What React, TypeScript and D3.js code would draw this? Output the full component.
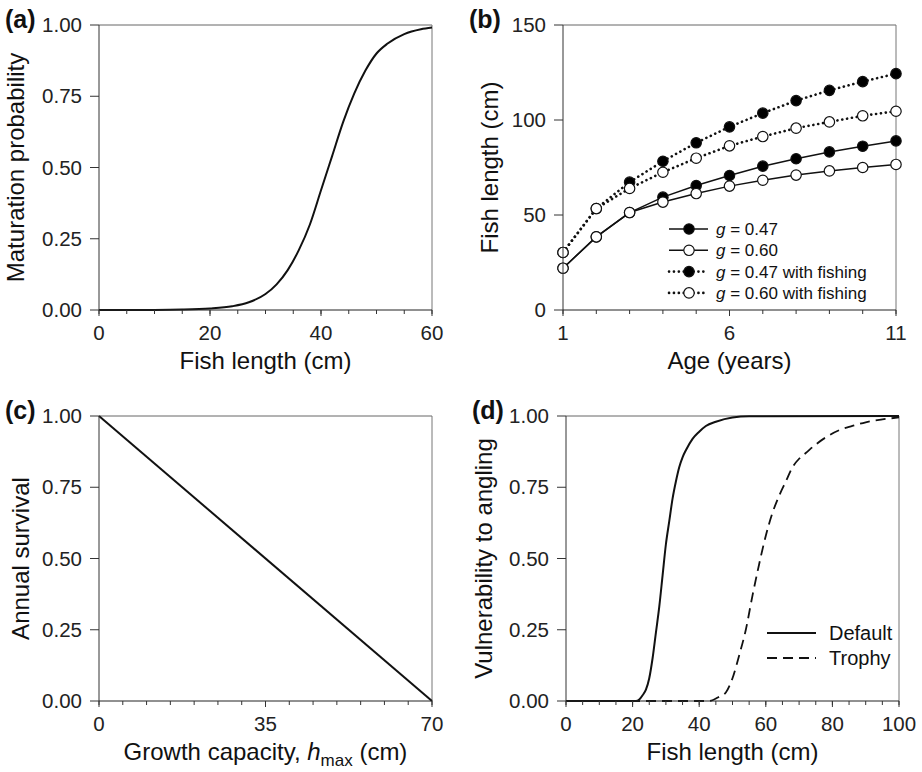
import React from "react";
import * as d3 from "d3";

const FONT = '"Liberation Sans", Arial, Helvetica, sans-serif';

// (a) maturation ogive
const matLength = [0, 10, 15, 20, 24, 27, 30, 32, 34, 36, 38, 40, 42, 44, 46, 48, 50, 52, 55, 58, 60];
const matProb = [0, 0.0004, 0.0014, 0.005, 0.013, 0.027, 0.056, 0.09, 0.14, 0.21, 0.3, 0.42, 0.54, 0.66, 0.76, 0.84, 0.9, 0.935, 0.968, 0.985, 0.991];

// (b) growth curves
const ages = [1, 2, 3, 4, 5, 6, 7, 8, 9, 10, 11];
const g047 = [22, 38.5, 51.3, 59.4, 65.5, 70.8, 75.7, 79.6, 83.2, 86.2, 89.0];
const g060 = [22, 38.5, 51.3, 56.8, 61.3, 65.2, 68.3, 71.0, 73.2, 75.0, 76.6];
const g047Fishing = [30.3, 53.4, 67.3, 78.3, 88.0, 96.4, 103.6, 110.2, 115.6, 120.2, 124.4];
const g060Fishing = [30.3, 53.4, 64.0, 72.5, 79.9, 86.4, 91.3, 95.7, 99.0, 102.2, 104.6];

// (c) survival vs growth capacity
const hmax = [0, 70];
const survival = [1, 0];

// (d) vulnerability to angling
const defLength = [0, 21, 22, 23, 24, 25, 26, 27, 28, 29, 30, 31, 32, 33, 34, 35, 36, 38, 40, 42, 45, 50, 55, 100];
const defVuln = [0, 0, 0.005, 0.02, 0.04, 0.08, 0.15, 0.24, 0.33, 0.44, 0.55, 0.63, 0.71, 0.77, 0.82, 0.855, 0.88, 0.92, 0.945, 0.965, 0.98, 0.995, 0.999, 1];
const troLength = [0, 43, 46, 48, 50, 52, 54, 56, 58, 60, 62, 64, 66, 68, 70, 72, 75, 78, 82, 86, 90, 95, 100];
const troVuln = [0, 0, 0.015, 0.03, 0.08, 0.16, 0.25, 0.37, 0.48, 0.58, 0.66, 0.72, 0.77, 0.82, 0.85, 0.87, 0.9, 0.925, 0.95, 0.965, 0.978, 0.988, 0.995];

const probTicks = [0, 0.25, 0.5, 0.75, 1];

type Sc = d3.ScaleLinear<number, number>;

type PanelProps = {
  label: string;
  x0: number;
  x1: number;
  yTop: number;
  yBot: number;
  xDomain: [number, number];
  yDomain: [number, number];
  xMajor: number[];
  xMinorStep: number;
  yTicks: number[];
  yFmt: (v: number) => string;
  xTitle: React.ReactNode;
  yTitle: string;
  yTitleX: number;
  children: (x: Sc, y: Sc) => React.ReactNode;
};

function Panel(p: PanelProps) {
  const x = d3.scaleLinear().domain(p.xDomain).range([p.x0, p.x1]);
  const y = d3.scaleLinear().domain(p.yDomain).range([p.yBot, p.yTop]);
  const minor = d3.range(p.xDomain[0], p.xDomain[1] + 1e-9, p.xMinorStep);
  return (
    <g>
      {/* frame */}
      <line x1={p.x0} x2={p.x1} y1={p.yTop} y2={p.yTop} stroke="#666" strokeWidth={1} />
      <line x1={p.x1} x2={p.x1} y1={p.yTop} y2={p.yBot} stroke="#777" strokeWidth={1} />
      {p.children(x, y)}
      <line x1={p.x0} x2={p.x0} y1={p.yTop} y2={p.yBot} stroke="#333" strokeWidth={1} />
      <line x1={p.x0} x2={p.x1} y1={p.yBot} y2={p.yBot} stroke="#222" strokeWidth={1} />
      {/* x ticks */}
      {minor.map((v) => (
        <line key={"m" + v} x1={x(v)} x2={x(v)} y1={p.yBot} y2={p.yBot + 4} stroke="#333" />
      ))}
      {p.xMajor.map((v) => (
        <g key={"M" + v}>
          <line x1={x(v)} x2={x(v)} y1={p.yBot} y2={p.yBot + 6} stroke="#333" />
          <text x={x(v)} y={p.yBot + 30} textAnchor="middle" fontSize={20.5} fill="#222">
            {v}
          </text>
        </g>
      ))}
      {/* y ticks */}
      {p.yTicks.map((v) => (
        <g key={"y" + v}>
          <line x1={p.x0 - 9} x2={p.x0} y1={y(v)} y2={y(v)} stroke="#333" />
          <text x={p.x0 - 17} y={y(v) + 7} textAnchor="end" fontSize={20.5} fill="#222">
            {p.yFmt(v)}
          </text>
        </g>
      ))}
      <text x={(p.x0 + p.x1) / 2} y={p.yBot + 59} textAnchor="middle" fontSize={24} fill="#111">
        {p.xTitle}
      </text>
      <text
        transform={`translate(${p.yTitleX},${(p.yTop + p.yBot) / 2}) rotate(-90)`}
        textAnchor="middle"
        fontSize={24}
        fill="#111"
      >
        {p.yTitle}
      </text>
      <text x={p.x0 - 94} y={p.yTop + 3} fontSize={25} fontWeight="bold" fill="#111">
        {p.label}
      </text>
    </g>
  );
}

const fmt2 = d3.format(".2f");
const DOTS = "0.1,4.8";

export default function App() {
  const curve = (xs: number[], ys: number[], x: Sc, y: Sc) =>
    d3
      .line<number>()
      .x((_, i) => x(xs[i]))
      .y((v) => y(v))
      .curve(d3.curveMonotoneX)(ys) || "";

  const growth = [
    { vals: g047, fill: "#000", dash: undefined as string | undefined, name: " = 0.47" },
    { vals: g047Fishing, fill: "#000", dash: DOTS, name: " = 0.47 with fishing" },
    { vals: g060, fill: "#fff", dash: undefined, name: " = 0.60" },
    { vals: g060Fishing, fill: "#fff", dash: DOTS, name: " = 0.60 with fishing" },
  ];
  const legendOrder = [growth[0], growth[2], growth[1], growth[3]];

  return (
    <div style={{ position: "absolute", left: 0, top: 0 }}>
      <svg width={922} height={772} style={{ display: "block", fontFamily: FONT, background: "#fff" }}>
        <Panel
          label="(a)"
          x0={99}
          x1={432}
          yTop={25}
          yBot={310}
          xDomain={[0, 60]}
          yDomain={[0, 1]}
          xMajor={[0, 20, 40, 60]}
          xMinorStep={5}
          yTicks={probTicks}
          yFmt={fmt2}
          xTitle="Fish length (cm)"
          yTitle="Maturation probability"
          yTitleX={24}
        >
          {(x, y) => <path d={curve(matLength, matProb, x, y)} fill="none" stroke="#111" strokeWidth={2} />}
        </Panel>

        <Panel
          label="(b)"
          x0={563}
          x1={896}
          yTop={25}
          yBot={310}
          xDomain={[1, 11]}
          yDomain={[0, 150]}
          xMajor={[1, 6, 11]}
          xMinorStep={1}
          yTicks={[0, 50, 100, 150]}
          yFmt={(v) => String(v)}
          xTitle="Age (years)"
          yTitle="Fish length (cm)"
          yTitleX={498}
        >
          {(x, y) => {
            const ln = d3
              .line<number>()
              .x((_, i) => x(ages[i]))
              .y((v) => y(v));
            return (
              <g>
                {growth.map((s, k) => (
                  <g key={k}>
                    <path
                      d={ln(s.vals) || ""}
                      fill="none"
                      stroke="#111"
                      strokeWidth={s.dash ? 2.6 : 1.5}
                      strokeDasharray={s.dash}
                      strokeLinecap={s.dash ? "round" : "butt"}
                    />
                    {s.vals.map((v, i) => (
                      <circle key={i} cx={x(ages[i])} cy={y(v)} r={5.2} fill={s.fill} stroke="#111" strokeWidth={1.2} />
                    ))}
                  </g>
                ))}
                {legendOrder.map((s, k) => {
                  const ly = 229 + k * 21.3;
                  return (
                    <g key={"lg" + k}>
                      <line
                        x1={669}
                        x2={708}
                        y1={ly}
                        y2={ly}
                        stroke="#111"
                        strokeWidth={s.dash ? 2.6 : 1.5}
                        strokeDasharray={s.dash}
                        strokeLinecap={s.dash ? "round" : "butt"}
                      />
                      <circle cx={689} cy={ly} r={5.2} fill={s.fill} stroke="#111" strokeWidth={1.2} />
                      <text x={716} y={ly + 6} fontSize={17} fill="#111">
                        <tspan fontStyle="italic">g</tspan>
                        {s.name}
                      </text>
                    </g>
                  );
                })}
              </g>
            );
          }}
        </Panel>

        <Panel
          label="(c)"
          x0={99}
          x1={432}
          yTop={416}
          yBot={701}
          xDomain={[0, 70]}
          yDomain={[0, 1]}
          xMajor={[0, 35, 70]}
          xMinorStep={5}
          yTicks={probTicks}
          yFmt={fmt2}
          xTitle={
            <>
              Growth capacity, <tspan fontStyle="italic">h</tspan>
              <tspan fontSize={17} dy={6}>max</tspan>
              <tspan dy={-6}> (cm)</tspan>
            </>
          }
          yTitle="Annual survival"
          yTitleX={29}
        >
          {(x, y) => (
            <path
              d={
                d3
                  .line<number>()
                  .x((_, i) => x(hmax[i]))
                  .y((v) => y(v))(survival) || ""
              }
              fill="none"
              stroke="#111"
              strokeWidth={2}
            />
          )}
        </Panel>

        <Panel
          label="(d)"
          x0={566}
          x1={899}
          yTop={416}
          yBot={701}
          xDomain={[0, 100]}
          yDomain={[0, 1]}
          xMajor={[0, 20, 40, 60, 80, 100]}
          xMinorStep={5}
          yTicks={probTicks}
          yFmt={fmt2}
          xTitle="Fish length (cm)"
          yTitle="Vulnerability to angling"
          yTitleX={492}
        >
          {(x, y) => (
            <g>
              <path d={curve(defLength, defVuln, x, y)} fill="none" stroke="#111" strokeWidth={2} />
              <path d={curve(troLength, troVuln, x, y)} fill="none" stroke="#111" strokeWidth={1.8} strokeDasharray="10,6" />
              <line x1={767} x2={816} y1={633} y2={633} stroke="#111" strokeWidth={1.8} />
              <text x={829} y={640} fontSize={20} fill="#111">Default</text>
              <line x1={767} x2={816} y1={658} y2={658} stroke="#111" strokeWidth={1.8} strokeDasharray="10,6" />
              <text x={829} y={665} fontSize={20} fill="#111">Trophy</text>
            </g>
          )}
        </Panel>
      </svg>
    </div>
  );
}
